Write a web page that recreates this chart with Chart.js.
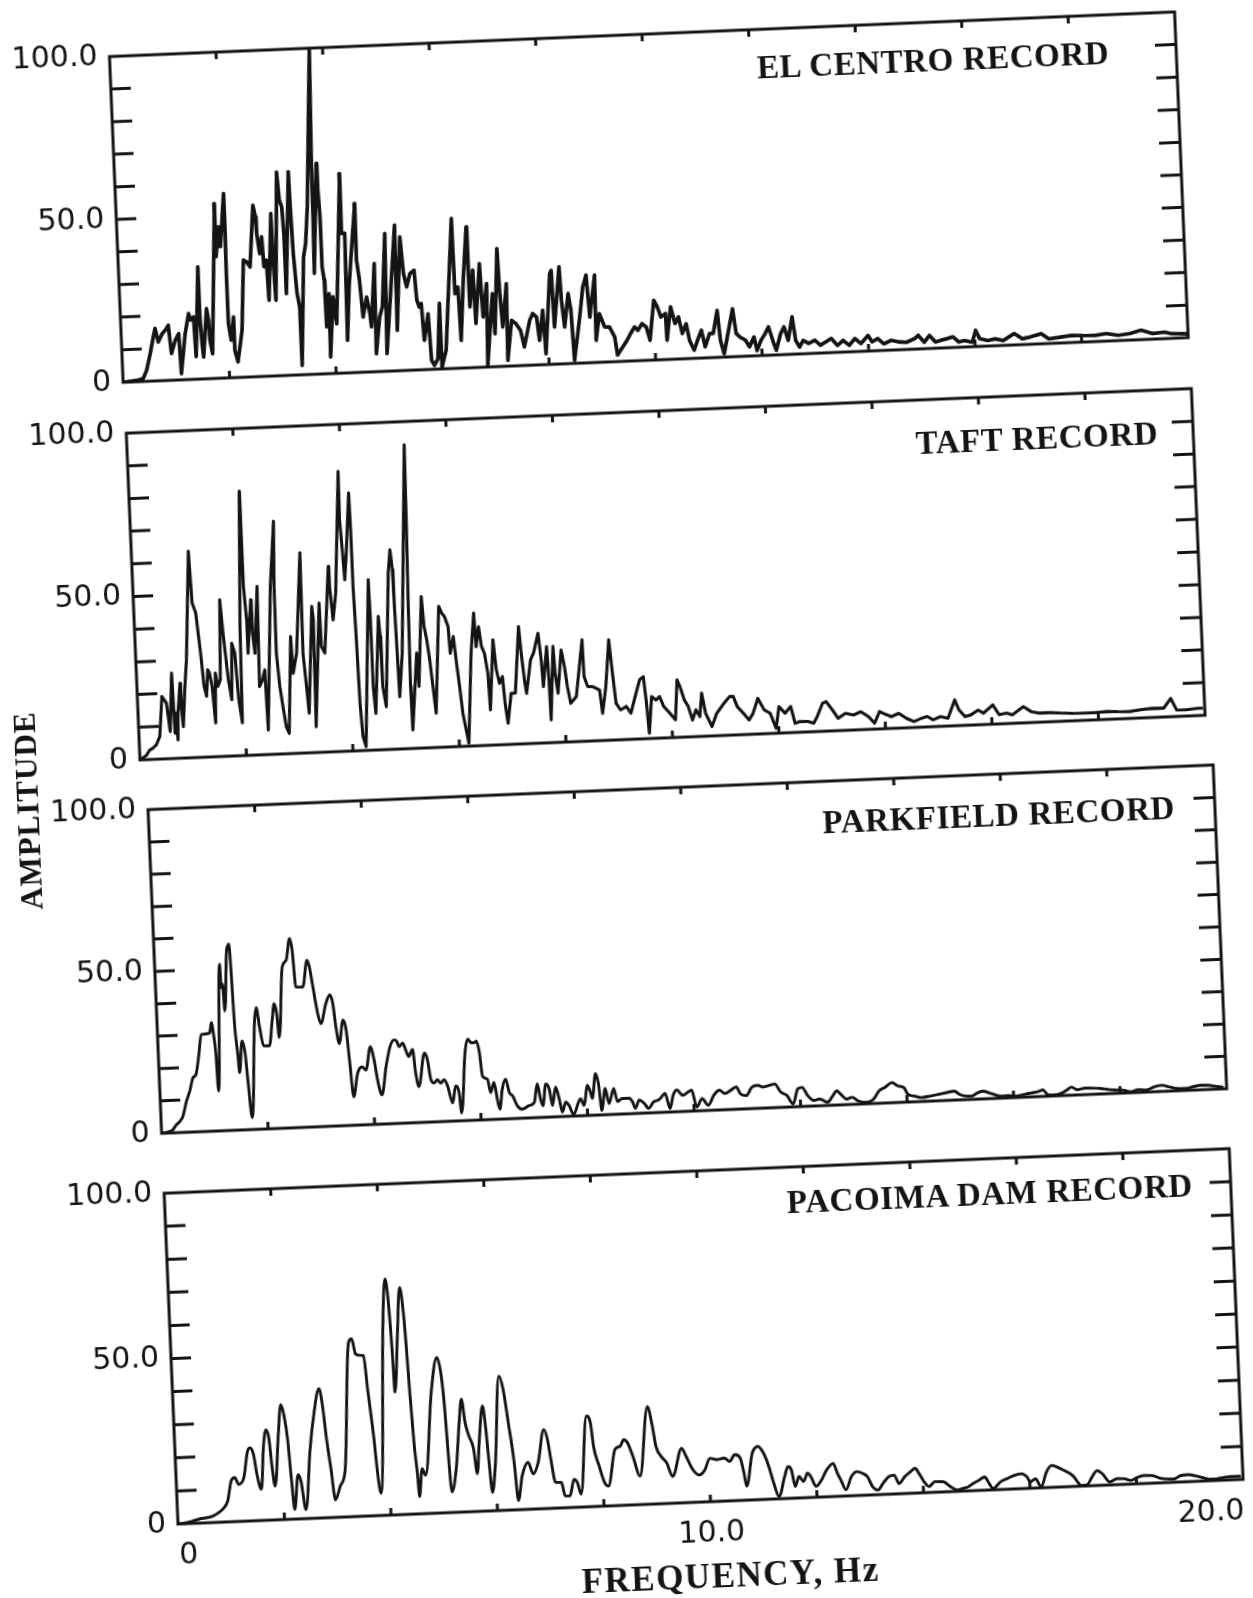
<!DOCTYPE html>
<html>
<head>
<meta charset="utf-8">
<title>Fourier amplitude spectra</title>
<script src="https://cdn.jsdelivr.net/npm/chart.js@4.4.1/dist/chart.umd.min.js"></script>
<style>
  html, body { margin: 0; padding: 0; background: #fff; }
  body { width: 1253px; height: 1598px; position: relative; overflow: hidden; }
  /* the scanned figure is tilted a little, so the whole stack is rotated */
  #fig { position: absolute; left: 178px; top: 1524px; width: 0; height: 0;
         transform: rotate(-2.4deg); transform-origin: 0 0; }
  #fig canvas { position: absolute; }
  .rec { position: absolute; font-family: "Liberation Serif", "DejaVu Serif", serif;
         font-weight: bold; font-size: 33px; letter-spacing: 0.6px; color: #141414;
         white-space: nowrap; line-height: 1; transform: translate(-100%, -50%); }
  .axt { position: absolute; font-family: "Liberation Serif", "DejaVu Serif", serif;
         font-weight: bold; color: #141414; white-space: nowrap; line-height: 1; }
</style>
</head>
<body>
<div id="fig">
  <canvas id="c1"></canvas>
  <canvas id="c2"></canvas>
  <canvas id="c3"></canvas>
  <canvas id="c4"></canvas>
  <div class="rec" style="left:992px; top:-1431px">EL CENTRO RECORD</div>
  <div class="rec" style="left:1025px; top:-1049px">TAFT RECORD</div>
  <div class="rec" style="left:1026px; top:-674px">PARKFIELD RECORD</div>
  <div class="rec" style="left:1028px; top:-296px">PACOIMA DAM RECORD</div>
  <div class="axt" style="left:-120px; top:-719px; font-size:31px; letter-spacing:1px; transform: translate(-50%, -50%) rotate(-90deg)">AMPLITUDE</div>
  <div class="axt" style="left:550px; top:74px; font-size:35px; letter-spacing:1.5px; transform: translate(-50%, -50%)">FREQUENCY, Hz</div>
</div>
<script>
// [frequency Hz, amplitude]
const elCentro = [
  [0,0],[0.26,0.4],[0.38,0.9],[0.45,3.4],[0.53,8.4],[0.60,13.5],[0.64,16.1],[0.69,11.9],[0.77,14.4],[0.83,15.4],
  [0.89,16.9],[0.93,8.2],[1.01,12.2],[1.08,14.2],[1.10,1.9],[1.20,14.1],[1.28,20.2],[1.31,18.2],[1.37,19.1],[1.39,6.9],
  [1.49,34.4],[1.49,19.0],[1.51,10.8],[1.53,6.7],[1.62,21.5],[1.65,17.9],[1.66,11.8],[1.70,7.6],[1.85,53.6],[1.84,37.3],
  [1.91,46.4],[1.93,40.3],[2.03,56.6],[2.03,46.3],[2.02,32.0],[2.02,16.6],[2.06,11.5],[2.12,18.6],[2.12,8.4],[2.17,4.8],
  [2.27,14.4],[2.35,35.9],[2.41,35.3],[2.47,33.7],[2.57,52.6],[2.61,49.0],[2.62,43.9],[2.66,37.7],[2.71,42.8],[2.73,33.6],
  [2.78,35.6],[2.80,23.3],[2.90,49.8],[2.91,33.4],[2.93,23.2],[3.04,62.5],[3.07,53.8],[3.11,51.7],[3.13,43.5],[3.13,25.1],
  [3.26,62.4],[3.27,51.6],[3.29,37.3],[3.33,25.0],[3.37,20.8],[3.37,2.9],[3.48,36.1],[3.53,40.2],[3.59,51.4],[3.75,99.4],
  [3.70,64.7],[3.69,48.3],[3.67,30.9],[3.79,64.6],[3.80,56.4],[3.82,48.2],[3.82,32.8],[3.85,28.7],[3.86,14.4],[3.93,24.5],
  [3.91,5.1],[4.00,23.5],[4.05,15.2],[4.22,61.2],[4.21,42.8],[4.27,42.8],[4.24,10.0],[4.31,26.3],[4.39,38.6],[4.48,51.8],
  [4.47,34.4],[4.51,28.2],[4.55,16.9],[4.63,23.0],[4.68,17.9],[4.70,13.8],[4.80,33.2],[4.77,5.5],[4.86,16.7],[4.92,19.8],
  [5.02,42.2],[4.97,5.4],[5.07,21.7],[5.21,44.7],[5.18,12.4],[5.30,41.0],[5.34,29.7],[5.39,25.6],[5.46,29.6],[5.54,30.6],
  [5.57,21.4],[5.61,19.3],[5.65,20.3],[5.68,9.0],[5.77,17.1],[5.80,2.8],[5.85,1.2],[5.92,3.2],[5.99,20.1],[5.99,0.6],
  [6.08,5.7],[6.28,46.0],[6.29,22.9],[6.35,24.9],[6.37,8.5],[6.46,27.9],[6.55,43.2],[6.56,18.7],[6.64,29.9],[6.66,13.5],
  [6.77,31.8],[6.80,15.4],[6.89,25.6],[6.85,0.5],[6.99,22.4],[7.01,10.1],[7.11,36.2],[7.13,22.4],[7.16,12.1],[7.26,25.3],
  [7.23,1.8],[7.33,14.0],[7.41,12.9],[7.49,10.8],[7.55,5.7],[7.67,13.8],[7.73,15.8],[7.80,14.7],[7.84,7.5],[7.92,16.7],
  [7.95,3.3],[8.08,27.8],[8.11,28.8],[8.13,11.4],[8.26,29.8],[8.28,19.5],[8.32,11.3],[8.41,21.5],[8.45,16.4],[8.48,0.9],
  [8.61,14.2],[8.69,23.3],[8.76,26.9],[8.80,14.0],[8.92,26.8],[8.90,6.8],[8.98,14.9],[9.07,10.8],[9.16,10.7],[9.25,7.6],
  [9.29,2.0],[9.48,6.4],[9.55,8.4],[9.63,10.4],[9.69,9.3],[9.77,11.3],[9.85,10.2],[9.91,6.1],[10.01,18.3],[10.07,16.3],
  [10.13,13.1],[10.22,14.1],[10.23,5.9],[10.32,16.1],[10.39,10.9],[10.46,12.9],[10.52,7.8],[10.60,10.7],[10.65,5.6],[10.73,2.5],
  [10.80,5.5],[10.88,8.5],[10.94,3.4],[11.03,7.4],[11.10,7.4],[11.19,14.4],[11.23,5.2],[11.29,1.0],[11.39,8.2],[11.48,14.7],
  [11.53,7.1],[11.60,5.9],[11.70,4.9],[11.77,2.8],[11.86,5.8],[11.91,1.6],[11.99,4.7],[12.07,6.6],[12.14,8.7],[12.21,4.5],
  [12.27,1.4],[12.36,6.4],[12.43,8.5],[12.50,4.3],[12.59,11.5],[12.64,4.2],[12.71,2.1],[12.78,4.1],[12.88,3.1],[13.00,4.0],
  [13.10,2.4],[13.20,3.3],[13.31,4.3],[13.42,2.1],[13.53,3.6],[13.64,2.0],[13.75,4.0],[13.86,2.4],[14.00,4.8],[14.07,2.8],
  [14.18,3.7],[14.29,2.0],[14.43,3.0],[14.58,2.4],[14.72,2.2],[14.87,3.2],[14.94,4.2],[15.05,2.0],[15.15,4.0],[15.26,1.9],
  [15.37,2.4],[15.48,2.8],[15.59,3.3],[15.70,1.6],[15.80,2.0],[15.95,1.4],[16.02,5.0],[16.09,2.4],[16.24,1.7],[16.38,2.1],
  [16.53,1.5],[16.74,3.5],[16.89,1.8],[17.03,2.2],[17.25,3.1],[17.39,1.4],[17.61,1.8],[17.82,2.2],[18.04,2.0],[18.26,1.9],
  [18.47,2.3],[18.69,1.6],[18.91,2.0],[19.12,2.9],[19.34,1.7],[19.56,2.0],[19.70,1.4],[19.99,1.2]
];

const taft = [
  [0,0],[0.13,1.4],[0.19,2.9],[0.25,3.4],[0.32,4.4],[0.39,6.9],[0.46,19.1],[0.54,17.0],[0.59,8.3],[0.66,26.1],
  [0.68,7.7],[0.71,13.8],[0.73,5.6],[0.75,13.8],[0.81,22.9],[0.82,14.8],[0.84,9.6],[0.90,21.8],[0.95,30.0],[1.07,63.1],
  [1.10,47.3],[1.16,44.2],[1.22,31.9],[1.26,21.7],[1.30,18.6],[1.34,26.7],[1.37,25.7],[1.41,21.6],[1.45,10.3],[1.48,25.6],
  [1.52,21.5],[1.57,23.5],[1.62,47.9],[1.66,36.7],[1.72,23.4],[1.77,17.2],[1.81,34.5],[1.86,31.5],[1.90,17.2],[1.95,10.0],
  [1.98,39.5],[2.07,80.8],[2.07,63.9],[2.08,51.7],[2.11,41.4],[2.11,31.2],[2.20,47.5],[2.21,37.3],[2.24,31.1],[2.33,51.5],
  [2.30,20.9],[2.36,22.9],[2.41,25.9],[2.43,7.5],[2.58,51.3],[2.69,71.2],[2.65,51.3],[2.64,30.9],[2.68,20.6],[2.73,13.5],
  [2.77,8.3],[2.82,6.2],[2.92,35.8],[2.94,24.5],[3.02,30.6],[3.16,61.2],[3.14,30.5],[3.18,20.3],[3.21,12.1],[3.34,44.7],
  [3.36,40.6],[3.33,7.9],[3.48,45.6],[3.49,32.3],[3.55,30.3],[3.68,56.7],[3.69,50.6],[3.73,40.3],[3.80,48.5],[3.94,85.6],
  [3.93,70.8],[3.96,60.6],[3.98,52.4],[4.03,60.6],[4.12,78.9],[4.13,67.6],[4.13,50.3],[4.15,34.9],[4.17,14.5],[4.20,4.3],
  [4.25,1.2],[4.42,52.1],[4.43,39.9],[4.43,19.4],[4.46,11.2],[4.58,40.8],[4.60,34.6],[4.61,19.3],[4.66,13.1],[4.80,53.9],
  [4.85,61.0],[4.88,54.9],[4.89,43.6],[4.90,35.4],[4.92,16.0],[5.00,29.3],[5.20,92.9],[5.18,70.0],[5.15,43.4],[5.13,19.0],
  [5.14,5.7],[5.27,29.1],[5.29,18.9],[5.40,46.3],[5.43,37.1],[5.47,33.0],[5.51,26.9],[5.55,18.7],[5.59,10.5],[5.72,43.1],
  [5.77,41.0],[5.82,39.9],[5.88,36.8],[5.90,28.6],[5.97,33.7],[6.01,25.5],[6.05,18.3],[6.09,10.1],[6.14,5.0],[6.18,0.9],
  [6.29,28.4],[6.37,40.6],[6.39,30.3],[6.45,36.4],[6.49,30.3],[6.54,28.2],[6.59,22.0],[6.61,10.8],[6.71,32.2],[6.75,23.0],
  [6.80,18.8],[6.86,20.8],[6.89,12.6],[6.93,6.5],[7.01,15.6],[7.09,15.6],[7.20,35.9],[7.23,27.7],[7.27,19.5],[7.30,15.4],
  [7.40,25.6],[7.46,27.6],[7.56,33.6],[7.60,25.4],[7.62,17.2],[7.71,29.4],[7.73,19.2],[7.74,7.0],[7.83,29.4],[7.85,21.2],
  [7.89,15.0],[7.98,28.2],[8.03,23.1],[8.07,16.9],[8.12,11.8],[8.23,13.8],[8.38,31.0],[8.39,19.8],[8.45,16.7],[8.54,16.6],
  [8.67,15.5],[8.71,8.3],[8.79,16.4],[8.88,30.7],[8.92,21.5],[8.97,11.2],[9.05,9.1],[9.16,10.1],[9.24,8.0],[9.35,14.0],
  [9.43,18.1],[9.50,19.0],[9.54,10.8],[9.57,1.6],[9.64,12.8],[9.72,11.7],[9.79,12.7],[9.86,9.6],[9.97,7.5],[10.07,5.4],
  [10.13,17.6],[10.18,15.5],[10.25,11.4],[10.32,9.3],[10.39,5.1],[10.46,8.2],[10.53,6.1],[10.58,13.2],[10.64,7.0],[10.75,2.9],
  [10.85,6.9],[10.99,9.8],[11.10,11.8],[11.17,11.8],[11.24,8.6],[11.35,6.5],[11.45,4.4],[11.53,6.4],[11.63,10.9],[11.74,7.3],
  [11.85,6.2],[11.95,1.5],[12.02,8.1],[12.13,6.0],[12.24,8.0],[12.31,2.8],[12.41,3.3],[12.55,3.2],[12.66,2.6],[12.73,4.6],
  [12.84,8.6],[12.91,9.0],[13.02,6.4],[13.12,3.8],[13.26,5.2],[13.41,4.6],[13.55,5.5],[13.69,3.9],[13.80,1.8],[13.90,5.3],
  [13.97,4.7],[14.12,3.6],[14.26,4.5],[14.40,2.9],[14.54,1.8],[14.68,2.7],[14.79,3.2],[14.90,2.1],[15.04,3.0],[15.18,2.4],
  [15.32,7.9],[15.39,4.8],[15.50,2.7],[15.61,3.1],[15.75,4.5],[15.85,3.5],[16.03,5.9],[16.14,2.8],[16.28,3.2],[16.39,2.6],
  [16.60,5.0],[16.74,3.4],[16.88,2.8],[17.10,2.8],[17.31,2.5],[17.52,2.3],[17.74,2.2],[17.95,2.2],[18.16,2.4],[18.38,2.2],
  [18.59,2.1],[18.80,2.5],[19.01,2.8],[19.23,2.7],[19.37,5.6],[19.47,2.0],[19.65,1.9],[19.86,2.2],[19.97,2.2]
];

const parkfield = [
  [0,0],[0.21,0.9],[0.28,2.4],[0.35,3.4],[0.41,4.9],[0.49,9.5],[0.56,12.6],[0.63,16.7],[0.69,17.7],[0.76,23.8],
  [0.82,30.0],[0.91,30.1],[0.98,30.4],[1.02,33.5],[1.05,29.9],[1.08,23.6],[1.10,12.3],[1.22,51.4],[1.23,44.2],[1.26,45.2],
  [1.28,36.9],[1.36,55.5],[1.41,57.5],[1.43,48.2],[1.45,33.7],[1.49,23.4],[1.51,17.7],[1.58,27.5],[1.63,23.3],[1.66,15.1],
  [1.71,3.7],[1.83,33.5],[1.87,37.6],[1.92,31.4],[1.98,25.7],[2.09,25.6],[2.16,33.3],[2.21,38.5],[2.25,35.4],[2.28,28.1],
  [2.39,49.7],[2.47,51.8],[2.55,58.4],[2.59,54.8],[2.63,43.4],[2.76,43.3],[2.86,51.5],[2.90,49.4],[2.95,43.2],[3.02,34.9],
  [3.07,31.8],[3.18,37.9],[3.26,40.5],[3.31,37.8],[3.35,30.6],[3.40,25.4],[3.49,32.6],[3.54,29.5],[3.58,20.1],[3.63,8.8],
  [3.72,15.9],[3.81,17.9],[3.88,16.9],[3.98,24.0],[4.04,19.9],[4.09,13.7],[4.16,9.0],[4.26,17.7],[4.35,23.8],[4.43,25.8],
  [4.48,25.3],[4.52,23.7],[4.59,24.7],[4.64,22.6],[4.69,20.5],[4.77,22.6],[4.81,15.3],[4.86,11.1],[4.99,21.4],[5.04,19.3],
  [5.09,13.1],[5.15,12.0],[5.21,13.0],[5.27,11.9],[5.34,12.9],[5.40,10.8],[5.48,5.6],[5.55,10.8],[5.61,8.6],[5.64,2.4],
  [5.75,21.0],[5.81,25.1],[5.87,24.0],[5.93,23.9],[5.97,24.4],[6.02,20.8],[6.06,13.5],[6.15,12.5],[6.20,8.3],[6.27,11.4],
  [6.32,6.2],[6.36,3.1],[6.42,9.2],[6.49,12.3],[6.55,8.1],[6.61,7.0],[6.69,3.9],[6.78,2.8],[6.91,3.8],[7.01,4.7],
  [7.08,10.4],[7.13,5.7],[7.17,3.6],[7.24,10.3],[7.30,8.7],[7.35,3.5],[7.42,9.2],[7.48,5.5],[7.53,1.4],[7.60,4.4],
  [7.66,3.3],[7.74,0.5],[7.84,4.3],[7.88,5.3],[7.94,3.2],[8.02,9.3],[8.07,7.2],[8.10,5.2],[8.18,12.8],[8.23,9.2],
  [8.27,1.4],[8.35,8.1],[8.41,3.4],[8.51,8.0],[8.57,3.9],[8.66,4.8],[8.79,4.8],[8.85,3.7],[8.90,1.6],[8.98,4.1],
  [9.07,3.0],[9.15,1.4],[9.25,3.4],[9.35,3.9],[9.47,5.8],[9.55,1.1],[9.62,5.2],[9.69,6.7],[9.80,5.0],[9.91,6.0],
  [9.97,6.5],[10.05,1.2],[10.16,3.7],[10.27,1.6],[10.38,4.6],[10.49,6.1],[10.59,5.0],[10.70,5.9],[10.81,6.9],[10.88,4.7],
  [10.99,4.1],[11.10,6.6],[11.21,7.1],[11.31,6.5],[11.42,6.9],[11.53,7.3],[11.64,4.7],[11.75,3.6],[11.86,0.9],[11.96,5.5],
  [12.04,5.9],[12.14,3.3],[12.25,1.7],[12.36,2.1],[12.51,1.0],[12.61,2.9],[12.69,4.4],[12.76,3.3],[12.87,1.7],[12.97,2.2],
  [13.08,1.0],[13.23,0.5],[13.37,1.3],[13.48,3.8],[13.59,4.8],[13.73,6.2],[13.84,5.1],[13.95,4.5],[14.02,2.4],[14.13,1.8],
  [14.27,1.2],[14.45,1.6],[14.60,2.0],[14.74,2.4],[14.89,2.8],[14.99,1.7],[15.10,1.1],[15.21,1.0],[15.32,1.9],[15.43,2.4],
  [15.54,1.8],[15.64,1.2],[15.75,0.6],[15.90,0.7],[16.04,0.4],[16.19,0.8],[16.33,1.2],[16.47,1.6],[16.55,2.0],[16.65,0.4],
  [16.76,0.3],[16.91,0.8],[17.01,1.7],[17.09,2.5],[17.20,1.6],[17.34,2.0],[17.48,1.9],[17.63,1.7],[17.77,1.3],[17.92,1.0],
  [18.06,0.9],[18.20,0.3],[18.35,0.9],[18.49,0.6],[18.64,1.5],[18.78,1.9],[18.93,1.3],[19.07,0.7],[19.22,0.6],[19.36,1.0],
  [19.50,1.4],[19.65,1.3],[19.79,0.9],[19.94,0.5]
];

const pacoima = [
  [0,0],[0.20,0.4],[0.40,1.2],[0.67,2.0],[0.88,4.4],[0.95,6.3],[1.03,12.3],[1.10,13.3],[1.17,11.2],[1.27,13.1],
  [1.36,21.1],[1.41,22.1],[1.47,20.0],[1.52,13.9],[1.59,9.4],[1.66,21.9],[1.72,27.3],[1.77,24.8],[1.81,15.7],[1.85,10.2],
  [1.95,25.7],[2.02,34.7],[2.07,31.6],[2.12,24.5],[2.16,12.5],[2.20,2.9],[2.29,13.4],[2.34,11.3],[2.41,2.7],[2.53,20.2],
  [2.62,30.2],[2.75,39.1],[2.80,34.1],[2.85,24.0],[2.91,14.9],[2.97,5.3],[3.07,9.3],[3.18,14.7],[3.34,52.7],[3.40,53.7],
  [3.46,49.1],[3.54,48.6],[3.61,48.5],[3.66,38.4],[3.74,23.3],[3.78,13.3],[3.83,6.7],[4.00,58.3],[4.07,71.3],[4.11,66.2],
  [4.15,50.1],[4.17,37.1],[4.26,54.1],[4.34,68.6],[4.39,61.0],[4.42,49.9],[4.45,35.9],[4.49,20.8],[4.53,11.7],[4.55,5.2],
  [4.62,13.6],[4.68,11.6],[4.85,36.6],[4.98,47.0],[5.05,41.4],[5.09,31.4],[5.12,18.3],[5.16,6.2],[5.26,13.2],[5.35,27.1],
  [5.41,34.1],[5.46,27.1],[5.52,23.0],[5.60,18.9],[5.65,11.4],[5.71,20.8],[5.80,31.8],[5.84,25.8],[5.88,14.7],[5.92,5.6],
  [6.00,14.6],[6.13,40.6],[6.20,36.5],[6.27,26.5],[6.35,14.4],[6.40,2.8],[6.49,10.2],[6.61,14.2],[6.70,10.6],[6.80,14.0],
  [6.93,23.9],[6.99,20.9],[7.04,14.8],[7.11,7.8],[7.22,7.7],[7.28,3.6],[7.37,3.5],[7.46,8.5],[7.52,7.4],[7.58,3.9],
  [7.74,27.4],[7.81,25.3],[7.85,18.2],[7.94,12.2],[8.03,7.1],[8.10,6.0],[8.25,17.0],[8.35,17.9],[8.42,19.8],[8.49,18.8],
  [8.58,14.7],[8.70,8.6],[8.89,29.5],[8.96,24.4],[9.02,17.4],[9.11,14.3],[9.21,12.2],[9.31,8.1],[9.50,16.5],[9.58,13.9],
  [9.68,10.3],[9.81,8.2],[9.92,9.7],[10.02,13.1],[10.15,12.6],[10.29,13.0],[10.39,11.9],[10.49,13.9],[10.59,12.8],[10.65,8.2],
  [10.69,4.2],[10.82,14.1],[10.93,16.1],[11.03,14.0],[11.12,9.9],[11.20,4.8],[11.29,0.7],[11.41,6.7],[11.48,9.6],[11.54,8.6],
  [11.60,3.5],[11.68,6.5],[11.76,4.9],[11.84,7.4],[11.90,6.3],[11.99,3.3],[12.10,5.2],[12.20,8.1],[12.33,10.0],[12.40,7.0],
  [12.46,4.9],[12.55,1.9],[12.66,5.8],[12.77,7.2],[12.86,6.7],[12.96,5.6],[13.05,2.5],[13.15,1.4],[13.25,3.4],[13.36,5.3],
  [13.46,5.7],[13.55,3.1],[13.66,5.1],[13.77,6.5],[13.86,7.5],[13.93,5.9],[14.02,3.3],[14.11,1.8],[14.22,3.2],[14.38,3.1],
  [14.51,1.5],[14.64,0.4],[14.74,0.8],[14.84,1.2],[14.94,2.2],[15.05,3.1],[15.16,4.0],[15.22,2.5],[15.31,0.4],[15.45,2.3],
  [15.58,3.2],[15.72,4.1],[15.85,4.5],[15.95,3.5],[16.01,1.9],[16.11,2.8],[16.21,0.3],[16.32,4.7],[16.42,6.6],[16.52,6.1],
  [16.65,5.0],[16.81,3.3],[16.97,0.2],[17.07,0.3],[17.17,2.6],[17.27,4.5],[17.37,3.4],[17.50,0.9],[17.64,1.8],[17.77,1.7],
  [17.90,1.1],[18.03,2.0],[18.17,2.4],[18.30,2.3],[18.43,1.5],[18.57,1.1],[18.70,1.0],[18.83,1.9],[18.97,2.1],[19.10,1.7],
  [19.23,1.1],[19.36,0.5],[19.50,0.5],[19.63,0.8],[19.76,1.0],[19.96,1.0]
];

const yLabels = { 0: "0", 50: "50.0", 100: "100.0" };
const xLabels = { 0: "0", 10: "10.0", 20: "20.0" };

const INK = "#141414";
const tickFont = { family: "DejaVu Sans", size: 30 };

// box around the plot and the short inward ticks on all four sides
const frame = {
  id: "frame",
  afterDraw(chart) {
    const { ctx, chartArea: a } = chart;
    const x = chart.scales.x, y = chart.scales.y;
    ctx.save();
    ctx.strokeStyle = INK;
    ctx.lineWidth = 3;
    ctx.strokeRect(a.left, a.top, a.right - a.left, a.bottom - a.top);
    ctx.beginPath();
    y.ticks.forEach(t => {
      if (t.value <= 0 || t.value >= 100) return;
      const py = y.getPixelForValue(t.value);
      ctx.moveTo(a.left, py); ctx.lineTo(a.left + 20, py);
      ctx.moveTo(a.right - 21, py); ctx.lineTo(a.right, py);
    });
    x.ticks.forEach(t => {
      if (t.value <= 0 || t.value >= 20) return;
      const px = x.getPixelForValue(t.value);
      ctx.moveTo(px, a.bottom); ctx.lineTo(px, a.bottom - 7);
      ctx.moveTo(px, a.top); ctx.lineTo(px, a.top + 7);
    });
    ctx.stroke();
    ctx.restore();
  }
};

function config(points, smooth, showX, lw) {
  return {
    type: "line",
    data: {
      datasets: [{
        data: points.map(p => ({ x: p[0], y: p[1] })),
        borderColor: INK,
        borderWidth: lw,
        borderJoinStyle: "round",
        pointRadius: 0,
        fill: false,
        tension: smooth ? 0.35 : 0,
        cubicInterpolationMode: smooth ? "monotone" : "default"
      }]
    },
    options: {
      responsive: false,
      animation: false,
      layout: { autoPadding: false, padding: { top: 12, right: 40, left: 0, bottom: 0 } },
      plugins: { legend: { display: false }, tooltip: { enabled: false } },
      scales: {
        x: {
          type: "linear", min: 0, max: 20,
          grid: { display: false, drawTicks: false },
          border: { display: false },
          afterFit: s => { s.height = showX ? 60 : 24; },
          ticks: {
            display: showX, stepSize: 2, autoSkip: false, maxRotation: 0,
            align: "inner", padding: 14, color: INK, font: tickFont,
            callback: v => xLabels[v] ?? ""
          }
        },
        y: {
          min: 0, max: 100,
          grid: { display: false, drawTicks: false },
          border: { display: false },
          afterFit: s => { s.width = 100; },
          ticks: {
            stepSize: 10, autoSkip: false, padding: 12, color: INK, font: tickFont,
            callback: v => yLabels[v] ?? ""
          }
        }
      }
    },
    plugins: [frame]
  };
}

// draw one spectrum so that its plot box has height plotH and its
// lower-left corner sits at (left, bottom) inside the tilted figure
function spectrum(id, points, smooth, showX, lw, left, bottom, plotH) {
  const el = document.getElementById(id);
  const base = 12 + plotH + (showX ? 60 : 24);
  el.width = 1206;
  el.height = base;
  let chart = new Chart(el, config(points, smooth, showX, lw));
  const short = Math.round(plotH - (chart.chartArea.bottom - chart.chartArea.top));
  if (short !== 0) {
    chart.destroy();
    el.width = 1206;
    el.height = base + short;
    chart = new Chart(el, config(points, smooth, showX, lw));
  }
  const a = chart.chartArea;
  el.style.left = (left - a.left) + "px";
  el.style.top = (bottom - a.bottom) + "px";
}

spectrum("c1", elCentro, false, false, 3.7, -7, -1143, 326);
spectrum("c2", taft, false, false, 3.1, -6, -765, 327);
spectrum("c3", parkfield, true, false, 2.9, 0, -391, 324);
spectrum("c4", pacoima, true, true, 2.9, 0, 0, 331);
</script>
</body>
</html>
